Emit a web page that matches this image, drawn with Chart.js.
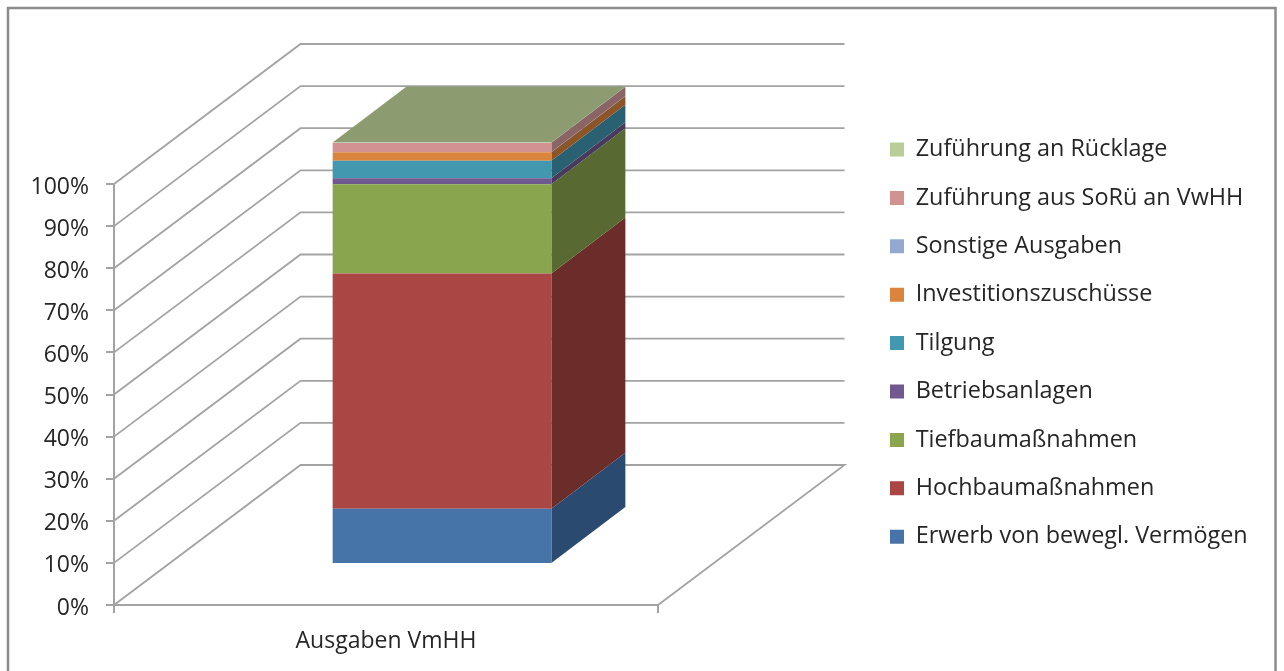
<!DOCTYPE html>
<html>
<head>
<meta charset="utf-8">
<style>
  html, body { margin: 0; padding: 0; background: #fff; overflow: hidden; }
  canvas { display: block; }
</style>
<script src="https://cdn.jsdelivr.net/npm/chart.js@4"></script>
</head>
<body>
<canvas id="chart" width="1284" height="671"></canvas>
<script>
const categories = ['Ausgaben VmHH'];
const seriesNames = ['Erwerb von bewegl. Vermögen', 'Hochbaumaßnahmen', 'Tiefbaumaßnahmen', 'Betriebsanlagen', 'Tilgung', 'Investitionszuschüsse', 'Sonstige Ausgaben', 'Zuführung aus SoRü an VwHH', 'Zuführung an Rücklage'];
const seriesValues = [13.1, 55.9, 21.2, 1.4, 4.2, 2.0, 0.05, 2.2, 0.05];
const frontColors = ['#4674a8', '#aa4643', '#89a54e', '#71588f', '#4198af', '#db843d', '#93a9cf', '#d19392', '#b9cd96'];
const sideColors = ['#2b4a6f', '#6b2d2a', '#586a32', '#483a5c', '#2a6172', '#8c5528', '#5e6c85', '#8a6565', '#77845f'];
const topColor = '#8c9b70';

const FONT = '"Open Sans", sans-serif';
const lineColor = '#a3a3a3';

// depth of the floor and how far the bar sits inside it
const depth = { x: 186.5, y: -140 };
const barShift = { x: 56, y: -41 };
const barDepth = { x: 74, y: -56 };

function poly(ctx, pts, color){
  ctx.fillStyle = color;
  ctx.beginPath();
  pts.forEach((p, i) => i ? ctx.lineTo(p[0], p[1]) : ctx.moveTo(p[0], p[1]));
  ctx.closePath();
  ctx.fill();
}

const frame3d = {
  id: 'frame3d',
  beforeDraw(chart){
    const ctx = chart.ctx;
    ctx.save();
    ctx.fillStyle = '#fff';
    ctx.fillRect(0, 0, chart.width, chart.height);
    ctx.strokeStyle = '#8c8c8c';
    ctx.lineWidth = 2.5;
    ctx.strokeRect(8, 8, 1267.5, 680);
    ctx.restore();
  },
  afterLayout(chart){
    // legend sits right of the floor, outside the plot box
    const lg = chart.legend;
    lg.maxHeight = 600;
    lg.maxWidth = 420;
    lg.fit();
    lg.left = 865;
    lg.right = lg.left + lg.width;
    lg.top = 112.8;
    lg.bottom = lg.top + lg.height;
    lg.adjustHitBoxes();
  },
  beforeDatasetsDraw(chart){
    const ctx = chart.ctx, yS = chart.scales.y, a = chart.chartArea;
    ctx.save();
    ctx.strokeStyle = lineColor;
    ctx.lineWidth = 1.8;
    yS.ticks.forEach((t, i) => {
      const y = yS.getPixelForTick(i);
      ctx.beginPath();
      ctx.moveTo(a.left, y);
      ctx.lineTo(a.left + depth.x, y + depth.y);
      ctx.lineTo(a.right + depth.x, y + depth.y);
      if (t.value === 0) ctx.lineTo(a.right, y);
      ctx.stroke();
    });
    ctx.restore();

    // side and top faces, taken from the bar elements
    ctx.save();
    ctx.translate(barShift.x, barShift.y);
    let lastBar = null;
    chart.data.datasets.forEach((ds, i) => {
      const bar = chart.getDatasetMeta(i).data[0];
      const r = bar.x + bar.width / 2;
      poly(ctx, [[r, bar.base], [r + barDepth.x, bar.base + barDepth.y], [r + barDepth.x, bar.y + barDepth.y], [r, bar.y]], sideColors[i]);
      lastBar = bar;
    });
    const l = lastBar.x - lastBar.width / 2, r = lastBar.x + lastBar.width / 2, t = lastBar.y;
    poly(ctx, [[l, t], [r, t], [r + barDepth.x, t + barDepth.y], [l + barDepth.x, t + barDepth.y]], topColor);
    ctx.restore();

    // bars themselves are drawn by Chart.js, pushed into the floor
    ctx.save();
    ctx.translate(barShift.x, barShift.y);
  },
  afterDatasetsDraw(chart){
    chart.ctx.restore();
  }
};

new Chart(document.getElementById('chart'), {
  type: 'bar',
  data: {
    labels: categories,
    datasets: seriesNames.map((name, i) => ({
      label: name,
      data: [seriesValues[i]],
      backgroundColor: frontColors[i],
      borderWidth: 0
    }))
  },
  options: {
    responsive: false,
    animation: false,
    layout: { padding: { left: 0, right: 626, top: 184, bottom: 0 } },
    datasets: { bar: { categoryPercentage: 1, barPercentage: 0.402 } },
    scales: {
      x: {
        stacked: true,
        afterFit(scale){ scale.height = 66; },
        border: { color: lineColor, width: 2 },
        grid: { drawOnChartArea: false, drawTicks: true, tickLength: 8, color: lineColor, lineWidth: 2 },
        ticks: { font: { family: FONT, size: 23 }, color: '#262626', padding: 15, maxRotation: 0 }
      },
      y: {
        stacked: true,
        min: 0,
        max: 100,
        afterFit(scale){ scale.width = 114; },
        border: { color: lineColor, width: 2 },
        grid: { drawOnChartArea: false, drawTicks: true, tickLength: 8, color: lineColor, lineWidth: 2 },
        ticks: {
          stepSize: 10,
          font: { family: FONT, size: 23 },
          color: '#262626',
          padding: 17,
          labelOffset: 3,
          callback: v => v + '%'
        }
      }
    },
    plugins: {
      title: { display: false },
      tooltip: { enabled: false },
      legend: {
        position: 'chartArea',
        align: 'start',
        reverse: true,
        labels: {
          boxWidth: 14,
          boxHeight: 14,
          padding: 25,
          color: '#262626',
          font: { family: FONT, size: 23.4 }
        }
      }
    }
  },
  plugins: [frame3d]
});
</script>
</body>
</html>
